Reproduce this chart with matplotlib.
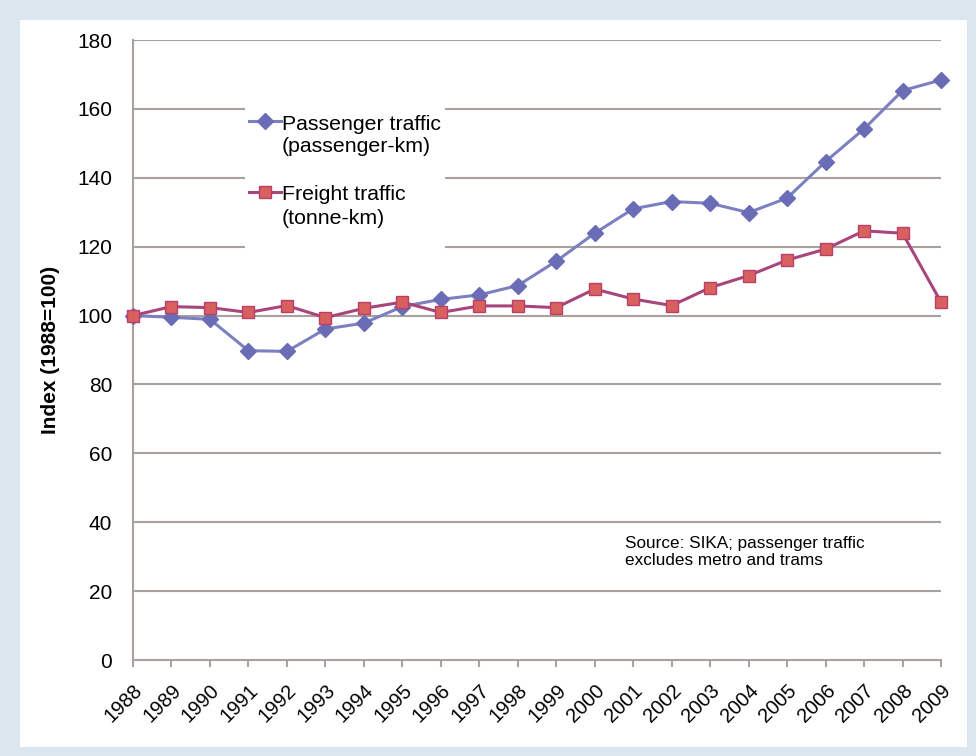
import matplotlib.pyplot as plt
from matplotlib.patches import Rectangle
from matplotlib.lines import Line2D

years = [str(y) for y in range(1988, 2010)]
passenger = [100, 99.5, 98.9, 89.8, 89.6, 96.1, 97.8, 102.6, 104.7, 106.0, 108.7,
             115.8, 123.9, 131.0, 133.1, 132.6, 129.9, 134.1, 144.7, 154.2, 165.3, 168.4]
freight = [100, 102.6, 102.3, 100.9, 102.9, 99.4, 102.1, 103.9, 100.9, 102.8, 102.8,
           102.3, 107.7, 104.8, 102.9, 108.1, 111.6, 116.1, 119.3, 124.6, 123.9, 103.9]
yticks = list(range(0, 181, 20))
legend_labels = [['Passenger traffic', '(passenger-km)'], ['Freight traffic', '(tonne-km)']]
source_note = 'Source: SIKA; passenger traffic\nexcludes metro and trams'

plt.rcParams['font.family'] = ['Liberation Sans', 'DejaVu Sans']

W, H = 976, 756
fig = plt.figure(figsize=(W / 100, H / 100), dpi=100, facecolor='#dce6ee')


def px(x, y):
    # pixel position (from top left) -> figure fraction
    return x / W, 1 - y / H


# white panel behind everything
bg = fig.add_axes([0, 0, 1, 1], zorder=-1)
bg.axis('off')
bg.add_patch(Rectangle(px(20, 747), 947 / W, 727 / H, transform=bg.transAxes,
                       facecolor='white', edgecolor='none'))

ax = fig.add_axes([133 / W, 1 - 660 / H, 808 / W, 620 / H])
ax.set_facecolor('none')

x = list(range(len(years)))
grid_c = '#a8a19e'
for v in yticks[1:]:
    ax.axhline(v, color=grid_c, lw=1.5, zorder=1)

p_line = dict(color='#7d80c0', lw=2.2)
p_mark = dict(marker='D', ms=8, mfc='#6a6db5', mec='#6a6db5')
f_line = dict(color='#a8457a', lw=2.2)
f_mark = dict(marker='s', ms=8.5, mfc='#d8605e', mec='#b9406a', mew=1)

ax.plot(x, passenger, clip_on=False, zorder=3, **p_line, **p_mark)
ax.plot(x, freight, clip_on=False, zorder=3, **f_line, **f_mark)

ax.set_xlim(0, len(years) - 1)
ax.set_ylim(0, 180)
ax.set_yticks(yticks)
ax.set_xticks(x)
ax.set_xticklabels(years, rotation=45, ha='right', rotation_mode='anchor')
ax.tick_params(axis='y', length=0, pad=15, labelsize=15)
ax.tick_params(axis='x', length=5, color=grid_c, width=1.5, pad=10, labelsize=14.5)

for s in ['top', 'right']:
    ax.spines[s].set_visible(False)
for s in ['left', 'bottom']:
    ax.spines[s].set_color(grid_c)
    ax.spines[s].set_linewidth(1.5)

ax.set_ylabel('Index (1988=100)', fontsize=15, fontweight='bold', labelpad=12)

# legend drawn by hand: key aligned with the first text line, white box over gridlines
x0, y0 = px(245, 252)
x1, y1 = px(445, 100)
ax.add_artist(Rectangle((x0, y0), x1 - x0, y1 - y0, transform=fig.transFigure,
                        facecolor='white', edgecolor='none', zorder=2))
for (l1, l2), lstyle, mstyle, ykey in zip(legend_labels, [p_line, f_line],
                                          [p_mark, f_mark], [121, 192]):
    xa, ya = px(249, ykey)
    xb, _ = px(281, ykey)
    ax.add_artist(Line2D([xa, xb], [ya, ya], transform=fig.transFigure, zorder=6, **lstyle))
    ax.add_artist(Line2D([(xa + xb) / 2], [ya], transform=fig.transFigure, ls='none',
                         zorder=7, **mstyle))
    tx, ty = px(282, ykey + 3)
    fig.text(tx, ty, l1, fontsize=15.3, va='center', ha='left', zorder=8)
    tx, ty = px(282, ykey + 26)
    fig.text(tx, ty, l2, fontsize=15.3, va='center', ha='left', zorder=8)

ax.text(12.79, 36, source_note, fontsize=12.3, va='top', ha='left',
        linespacing=1.15, zorder=4)

fig.savefig('out.png', dpi=100, facecolor=fig.get_facecolor())
